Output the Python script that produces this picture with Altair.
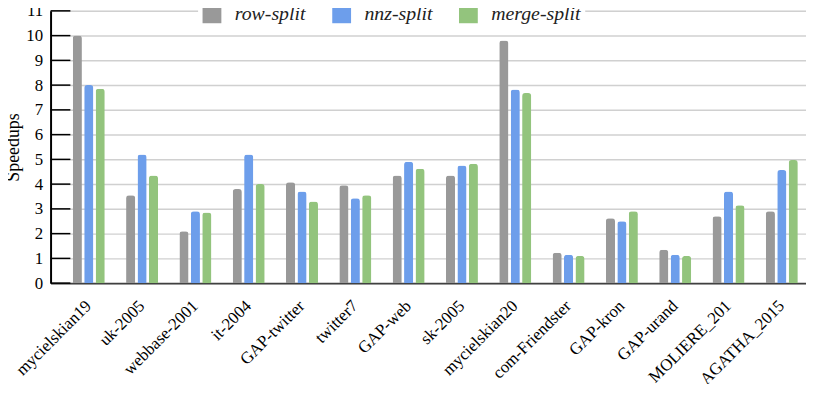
import altair as alt
import pandas as pd

categories = ["mycielskian19", "uk-2005", "webbase-2001", "it-2004", "GAP-twitter",
              "twitter7", "GAP-web", "sk-2005", "mycielskian20", "com-Friendster",
              "GAP-kron", "GAP-urand", "MOLIERE_201", "AGATHA_2015"]
series = ["row-split", "nnz-split", "merge-split"]
row_split = [10.0, 3.55, 2.1, 3.8, 4.08, 3.95, 4.35, 4.35, 9.8, 1.23, 2.62, 1.35, 2.7, 2.9]
nnz_split = [8.0, 5.2, 2.9, 5.2, 3.7, 3.43, 4.9, 4.75, 7.82, 1.15, 2.5, 1.15, 3.7, 4.57]
merge_split = [7.85, 4.35, 2.85, 4.0, 3.3, 3.55, 4.62, 4.82, 7.68, 1.1, 2.9, 1.1, 3.15, 4.97]
y_ticks = list(range(0, 12))
colors = ["#999999", "#6d9eeb", "#93c47d"]

rows = []
for name, vals in zip(series, [row_split, nnz_split, merge_split]):
    for c, v in zip(categories, vals):
        rows.append({"graph": c, "method": name, "speedup": v})
df = pd.DataFrame(rows)
ticks_df = pd.DataFrame({"v": y_ticks})

FONT = "Liberation Serif"
yscale = alt.Scale(domain=[0, 11], nice=False, zero=True)
yaxis = alt.Axis(values=y_ticks, labelFont=FONT, labelFontSize=17,
                 labelColor="#000000", ticks=False, domainColor="#000000",
                 domainWidth=2, labelPadding=8, labelOverlap=False,
                 gridColor="#d0d0d0", gridWidth=1.5,
                 titleFont=FONT, titleFontSize=18, titleAngle=270,
                 titleFontWeight="normal", titleColor="#000000",
                 titlePadding=3)

bars = alt.Chart(df).mark_bar(cornerRadiusTopLeft=3, cornerRadiusTopRight=3).encode(
    x=alt.X("graph:N", sort=categories, title=None,
            scale=alt.Scale(paddingInner=0.4, paddingOuter=0.285, align=0.73),
            axis=alt.Axis(labelAngle=-45, labelAlign="right", labelBaseline="middle",
                          labelFont=FONT, labelFontSize=17, labelColor="#000000",
                          ticks=False, domainColor="#404040", domainWidth=2,
                          labelPadding=20, labelOverlap=False, grid=False)),
    xOffset=alt.XOffset("method:N", sort=series,
                        scale=alt.Scale(paddingInner=0.2)),
    y=alt.Y("speedup:Q", scale=yscale, title="Speedups", axis=yaxis),
    color=alt.Color("method:N", sort=series,
                    scale=alt.Scale(domain=series, range=colors),
                    legend=alt.Legend(title=None, orient="none", direction="horizontal",
                                      legendX=149, legendY=-11, padding=4,
                                      fillColor="#ffffff", symbolType="square",
                                      symbolSize=361, symbolStrokeWidth=0,
                                      labelFont=FONT, labelFontStyle="italic",
                                      labelFontSize=20, labelColor="#222222",
                                      labelOffset=13, columnPadding=26)),
)

inner_ticks = alt.Chart(ticks_df).mark_rule(color="#000000", strokeWidth=1.5).encode(
    x=alt.value(0), x2=alt.value(20),
    y=alt.Y("v:Q", scale=yscale, title="Speedups", axis=yaxis),
)

chart = alt.layer(bars, inner_ticks).properties(
    width=763, height=275,
    autosize=alt.AutoSizeParams(type="none"),
    padding={"left": 43, "top": 1, "right": 0, "bottom": 100},
).configure_view(stroke=None).configure(background="#ffffff")

chart.save("out.html", embed_options={"renderer": "svg", "actions": False})
